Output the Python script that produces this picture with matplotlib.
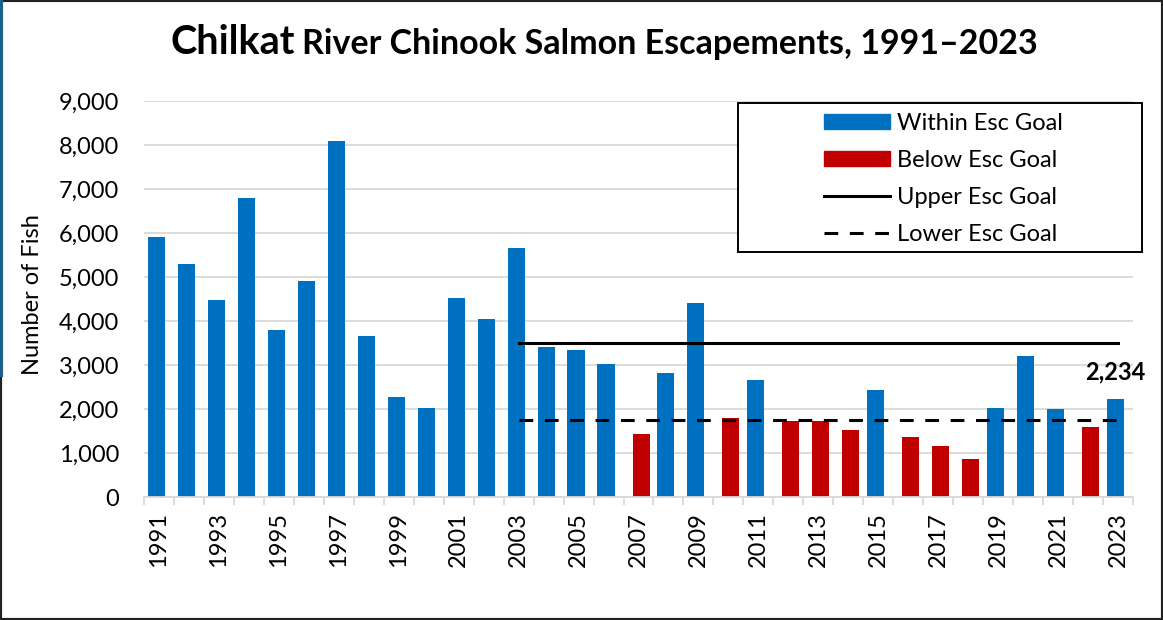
import matplotlib
matplotlib.use('Agg')
from matplotlib import pyplot as plt
from matplotlib.patches import Rectangle, Patch
from matplotlib.lines import Line2D
from matplotlib.ticker import FuncFormatter
import numpy as np

plt.rcParams['font.family'] = ['Lato', 'DejaVu Sans']

# escapement counts
years = list(range(1991, 2024))
escapement = [5900, 5290, 4470, 6800, 3790, 4920, 8090, 3670, 2270, 2020,
              4520, 4050, 5650, 3410, 3350, 3020, 1430, 2820, 4420, 1800,
              2670, 1720, 1720, 1520, 2430, 1360, 1170, 860, 2020, 3200,
              1990, 1580, 2234]
below_years = [2007, 2010, 2012, 2013, 2014, 2016, 2017, 2018, 2022]
goal_years = list(range(2003, 2024))
upper_goal = 3500
lower_goal = 1750
tick_years = years[::2]

W, H = 1163, 620
fig = plt.figure(figsize=(W / 100, H / 100), dpi=100)


def fx(px):
    return px / W


def fy(py):
    return 1 - py / H


ax = fig.add_axes([fx(144), fy(497), fx(1133) - fx(144), fy(101) - fy(497)])

blue = '#0070C0'
red = '#C00000'
xpos = np.arange(len(years))
is_below = np.array([y in below_years for y in years])
vals = np.array(escapement)

ax.bar(xpos[~is_below] - 0.085, vals[~is_below], width=0.57, color=blue, zorder=2)
ax.bar(xpos[is_below] + 0.085, vals[is_below], width=0.57, color=red, zorder=2)

gx = [years.index(y) for y in goal_years]
ax.plot(gx, [upper_goal] * len(gx), color='k', lw=2.2, zorder=3)
ax.plot(gx, [lower_goal] * len(gx), color='k', lw=2.2, dashes=(4.5, 3.8), zorder=3)

ax.annotate(f'{escapement[-1]:,}', xy=(xpos[-1] - 0.085, escapement[-1]),
            xytext=(0, 14), textcoords='offset points', ha='center',
            va='baseline', fontsize=17, fontweight='bold')

ax.set_xlim(-0.5, len(years) - 0.5)
ax.set_ylim(0, 9000)
ax.set_yticks(np.arange(0, 9001, 1000))
ax.yaxis.set_major_formatter(FuncFormatter(lambda v, p: f'{int(v):,}'))
ax.tick_params(axis='y', length=0, pad=18, labelsize=17)

ax.set_xticks([years.index(y) for y in tick_years])
ax.set_xticklabels([str(y) for y in tick_years], rotation=90, fontsize=17)
ax.set_xticks(np.arange(-0.5, len(years)), minor=True)
ax.tick_params(axis='x', which='major', length=0, pad=11)
ax.tick_params(axis='x', which='minor', length=6, width=1.3, color='#d9d9d9')

ax.yaxis.grid(True, color='#d9d9d9', lw=1.3)
ax.set_axisbelow(True)
for s in ['top', 'right', 'left']:
    ax.spines[s].set_visible(False)
ax.spines['bottom'].set_color('#d9d9d9')
ax.spines['bottom'].set_linewidth(1.3)

ax.set_ylabel('Number of Fish', fontsize=17, va='center')
ax.yaxis.set_label_coords(-0.113, 0.51)

# legend box
fig.add_artist(Rectangle((fx(738), fy(252)), fx(1142) - fx(738), fy(103) - fy(252),
                         transform=fig.transFigure, fc='white', ec='k', lw=1.4, zorder=4))
handles = [Patch(color=blue), Patch(color=red),
           Line2D([], [], color='k', lw=2.2),
           Line2D([], [], color='k', lw=2.2, dashes=(4.5, 3.8))]
labels = ['Within Esc Goal', 'Below Esc Goal', 'Upper Esc Goal', 'Lower Esc Goal']
fig.legend(handles, labels, loc='upper left', bbox_to_anchor=(fx(824), fy(113)),
           frameon=False, fontsize=17, handlelength=2.8, handleheight=0.62,
           handletextpad=0.3, labelspacing=0.68, borderpad=0, borderaxespad=0)

# title in two sizes
t1 = fig.text(fx(170), fy(54), 'Chilkat', fontsize=28.5, fontweight='bold', va='baseline')
fig.canvas.draw()
bb = t1.get_window_extent()
fig.text(fx(bb.x1 + 7), fy(54), 'River Chinook Salmon Escapements, 1991\u20132023',
         fontsize=24.5, fontweight='bold', va='baseline')

# outer border
fig.add_artist(Rectangle((0, 0), 1, 1, transform=fig.transFigure, fill=False,
                         ec='#222222', lw=3))
fig.add_artist(Line2D([0.001, 0.001], [fy(375), 1], transform=fig.transFigure,
                      color='#1f5f8f', lw=3))

plt.savefig('out.png', dpi=100)
